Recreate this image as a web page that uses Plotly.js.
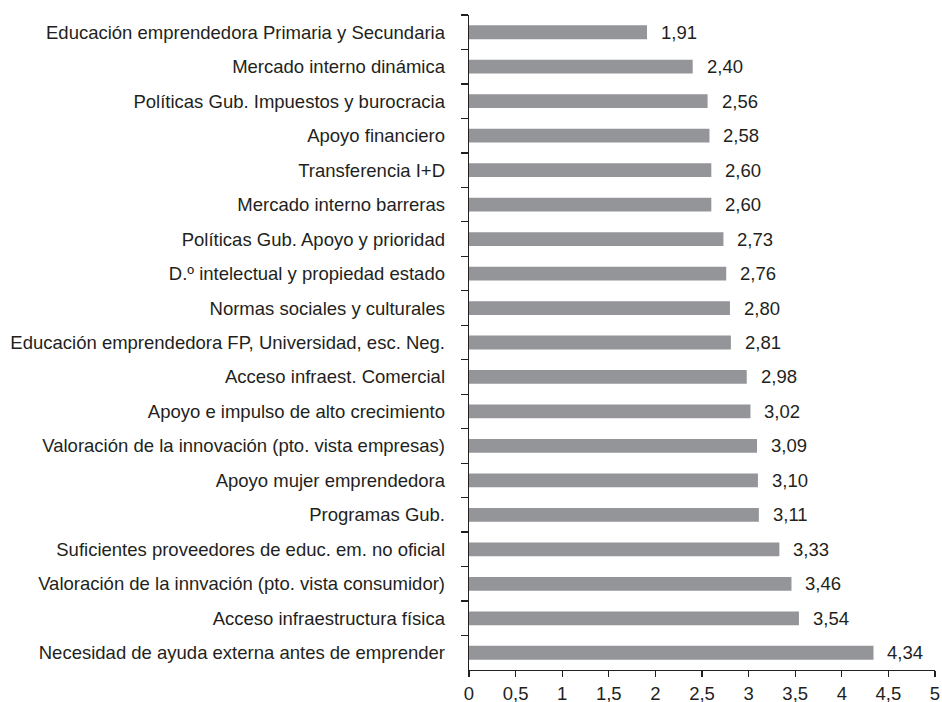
<!DOCTYPE html>
<html>
<head>
<meta charset="utf-8">
<script src="https://cdn.plot.ly/plotly-3.0.1.min.js"></script>
<style>html,body{margin:0;padding:0;background:#fff}#chart{width:942px;height:702px}</style>
</head>
<body>
<div id="chart"></div>
<script>
const categories = [
  "Educación emprendedora Primaria y Secundaria",
  "Mercado interno dinámica",
  "Políticas Gub. Impuestos y burocracia",
  "Apoyo financiero",
  "Transferencia I+D",
  "Mercado interno barreras",
  "Políticas Gub. Apoyo y prioridad",
  "D.º intelectual y propiedad estado",
  "Normas sociales y culturales",
  "Educación emprendedora FP, Universidad, esc. Neg.",
  "Acceso infraest. Comercial",
  "Apoyo e impulso de alto crecimiento",
  "Valoración de la innovación (pto. vista empresas)",
  "Apoyo mujer emprendedora",
  "Programas Gub.",
  "Suficientes proveedores de educ. em. no oficial",
  "Valoración de la innvación (pto. vista consumidor)",
  "Acceso infraestructura física",
  "Necesidad de ayuda externa antes de emprender"
];
const values = [1.91, 2.40, 2.56, 2.58, 2.60, 2.60, 2.73, 2.76, 2.80, 2.81, 2.98, 3.02, 3.09, 3.10, 3.11, 3.33, 3.46, 3.54, 4.34];
const xTicks = [0, 0.5, 1, 1.5, 2, 2.5, 3, 3.5, 4, 4.5, 5];

const fontFam = "Liberation Sans, Arial, sans-serif";
const txtColor = "#231f20";
const fs = 18.5;

const trace = {
  type: "bar",
  orientation: "h",
  x: values,
  y: categories,
  marker: {color: "#939598"},
  hoverinfo: "skip"
};

const annotations = values.map((v, i) => ({
  x: v, y: categories[i], xref: "x", yref: "y",
  text: v.toFixed(2).replace(".", ","),
  showarrow: false, xanchor: "left", xshift: 12,
  font: {family: fontFam, size: fs, color: txtColor}
}));

const layout = {
  width: 942, height: 702,
  margin: {l: 469, r: 7, t: 15, b: 32},
  paper_bgcolor: "#fff", plot_bgcolor: "#fff",
  separators: ",.",
  bargap: 0.6,
  showlegend: false,
  font: {family: fontFam, size: fs, color: txtColor},
  xaxis: {
    range: [0, 5], tickvals: xTicks, ticks: "outside", ticklen: 6, tickwidth: 1.3,
    tickcolor: txtColor, showline: true, linecolor: txtColor, linewidth: 1.3,
    showgrid: false, zeroline: false, tickfont: {size: fs}
  },
  yaxis: {
    type: "category", range: [categories.length - 0.5, -0.5],
    tickson: "boundaries", ticks: "outside", ticklen: 7, tickwidth: 1.3,
    tickcolor: txtColor, showline: true, linecolor: txtColor, linewidth: 1.3,
    showgrid: false, zeroline: false, ticklabelstandoff: 19, tickfont: {size: fs}
  },
  annotations: annotations
};

Plotly.newPlot("chart", [trace], layout, {displayModeBar: false, staticPlot: true});
</script>
</body>
</html>
